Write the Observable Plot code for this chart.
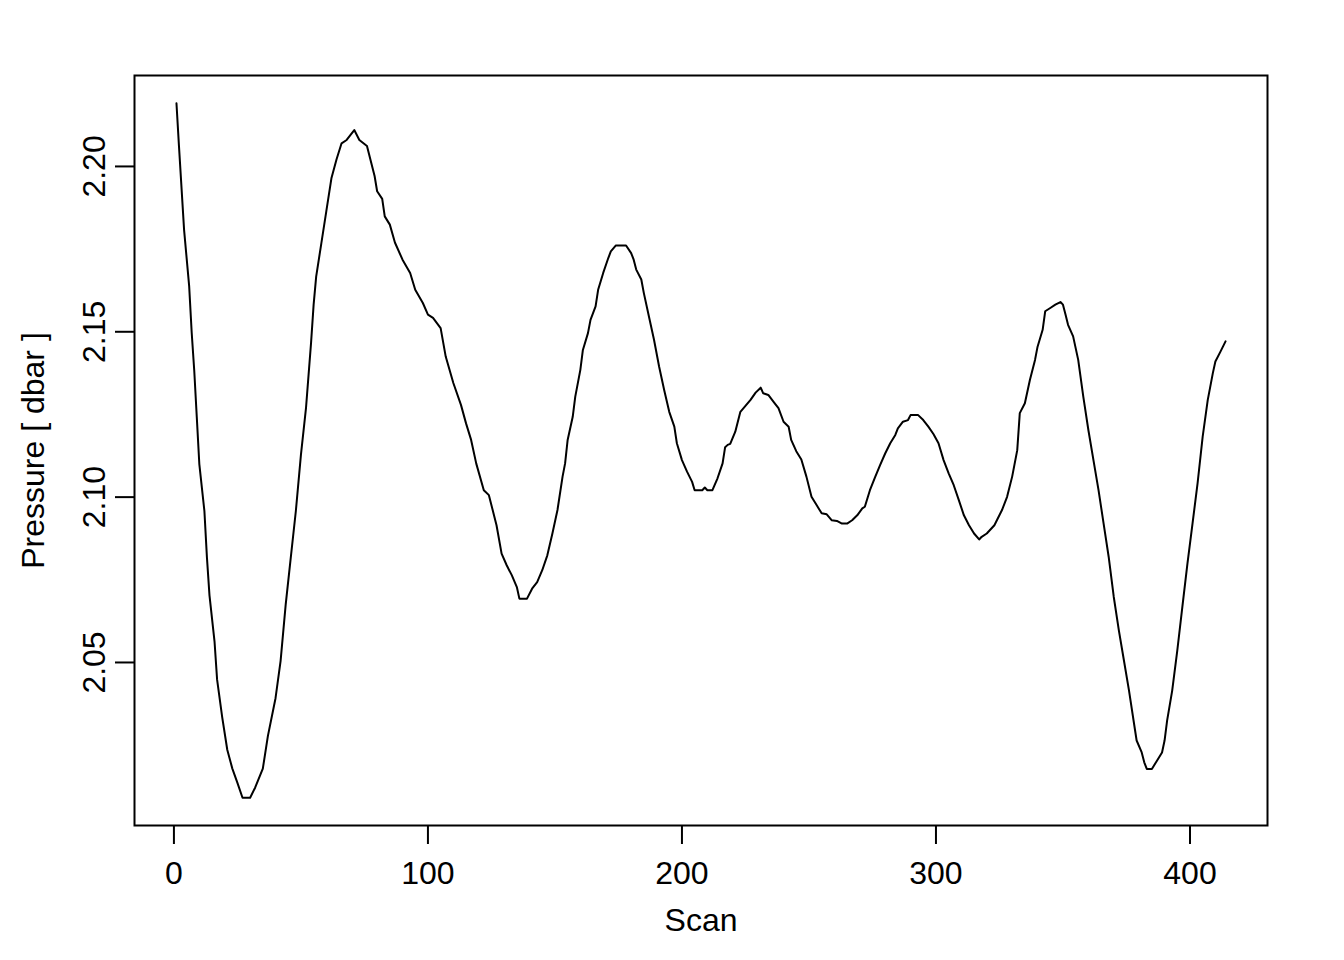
<!DOCTYPE html>
<html>
<head>
<meta charset="utf-8">
<script src="https://cdn.jsdelivr.net/npm/d3@7"></script>
<script src="https://cdn.jsdelivr.net/npm/@observablehq/plot@0.6"></script>
<style>
  html, body { margin: 0; padding: 0; background: #fff; }
</style>
</head>
<body>
<div id="chart"></div>
<script>
// Scan numbers and pressure (dbar)
const scan = [1, 2, 4, 6, 7, 8, 9, 10, 12, 13, 14, 16, 17, 19, 21, 23, 25, 27, 30, 32,
  35, 37, 40, 42, 44, 46, 48, 50, 52, 54, 55, 56, 58, 60, 62, 64, 66, 68, 71, 73,
  76, 79, 80, 82, 83, 85, 87, 90, 93, 95, 98, 100, 102, 105, 107, 110, 113, 115, 117, 119,
  122, 124, 127, 129, 131, 133, 135, 136, 139, 141, 143, 145, 147, 149, 151, 153, 154, 155, 157, 158,
  160, 161, 163, 164, 166, 167, 169, 171, 172, 174, 178, 180, 181, 182, 184, 185, 187, 189, 191, 193,
  195, 197, 198, 200, 202, 204, 205, 208, 209, 210, 212, 214, 216, 217, 218, 219, 221, 223, 225, 227,
  229, 231, 232, 234, 236, 238, 240, 242, 243, 245, 247, 249, 251, 253, 255, 257, 259, 261, 263, 265,
  267, 269, 271, 272, 274, 276, 278, 280, 282, 284, 285, 287, 289, 290, 293, 295, 297, 299, 301, 303,
  305, 307, 309, 311, 313, 315, 317, 318, 320, 323, 326, 328, 330, 332, 333, 335, 337, 339, 340, 342,
  343, 345, 347, 349, 350, 351, 352, 354, 356, 358, 360, 362, 364, 366, 368, 370, 372, 374, 376, 378,
  379, 381, 382, 383, 385, 387, 389, 390, 391, 393, 395, 397, 399, 401, 403, 405, 407, 409, 410, 412, 414];

const pressure = [2.2191, 2.2060, 2.1808, 2.1638, 2.1497, 2.1383, 2.1242, 2.1100, 2.0958, 2.0817, 2.0703, 2.0562, 2.0448, 2.0335, 2.0236, 2.0179, 2.0136, 2.0091, 2.0091, 2.0122,
  2.0179, 2.0278, 2.0392, 2.0505, 2.0675, 2.0817, 2.0958, 2.1128, 2.1270, 2.1468, 2.1582, 2.1667, 2.1766, 2.1865, 2.1964, 2.2021, 2.2070, 2.2080, 2.2110, 2.2080,
  2.2062, 2.1971, 2.1925, 2.1902, 2.1849, 2.1824, 2.1770, 2.1718, 2.1678, 2.1627, 2.1587, 2.1552, 2.1542, 2.1511, 2.1425, 2.1345, 2.1279, 2.1223, 2.1173, 2.1102,
  2.1021, 2.1006, 2.0915, 2.0829, 2.0794, 2.0764, 2.0728, 2.0693, 2.0693, 2.0723, 2.0743, 2.0779, 2.0824, 2.0890, 2.0961, 2.1062, 2.1102, 2.1173, 2.1243, 2.1304,
  2.1385, 2.1445, 2.1496, 2.1536, 2.1577, 2.1627, 2.1678, 2.1723, 2.1743, 2.1761, 2.1761, 2.1738, 2.1718, 2.1688, 2.1658, 2.1617, 2.1546, 2.1476, 2.1395, 2.1324,
  2.1258, 2.1213, 2.1163, 2.1112, 2.1077, 2.1046, 2.1021, 2.1021, 2.1029, 2.1021, 2.1021, 2.1057, 2.1102, 2.1151, 2.1158, 2.1161, 2.1198, 2.1258, 2.1276, 2.1294,
  2.1316, 2.1331, 2.1314, 2.1309, 2.1289, 2.1269, 2.1228, 2.1213, 2.1173, 2.1139, 2.1114, 2.1062, 2.1001, 2.0976, 2.0951, 2.0948, 2.0930, 2.0928, 2.0920, 2.0920,
  2.0930, 2.0945, 2.0966, 2.0971, 2.1021, 2.1060, 2.1097, 2.1132, 2.1163, 2.1188, 2.1208, 2.1228, 2.1233, 2.1248, 2.1248, 2.1233, 2.1213, 2.1191, 2.1163, 2.1112,
  2.1072, 2.1036, 2.0991, 2.0945, 2.0915, 2.0890, 2.0872, 2.0880, 2.0890, 2.0915, 2.0961, 2.1001, 2.1062, 2.1142, 2.1254, 2.1284, 2.1355, 2.1415, 2.1455, 2.1506,
  2.1562, 2.1572, 2.1582, 2.1590, 2.1582, 2.1552, 2.1521, 2.1486, 2.1415, 2.1304, 2.1203, 2.1112, 2.1021, 2.0920, 2.0819, 2.0698, 2.0597, 2.0506, 2.0415, 2.0314,
  2.0264, 2.0228, 2.0198, 2.0178, 2.0178, 2.0203, 2.0228, 2.0264, 2.0324, 2.0415, 2.0536, 2.0668, 2.0799, 2.0920, 2.1042, 2.1183, 2.1294, 2.1375, 2.1410, 2.1440, 2.1471];

const xTicks = [0, 100, 200, 300, 400];
const yTicks = [2.05, 2.10, 2.15, 2.20];
const xLabel = "Scan";
const yLabel = "Pressure [ dbar ]";

const data = scan.map((s, i) => ({scan: s, pressure: pressure[i]}));

// R-style 4% padding around the data range
const xExt = d3.extent(scan), yExt = d3.extent(pressure);
const xPad = (xExt[1] - xExt[0]) * 0.04, yPad = (yExt[1] - yExt[0]) * 0.04;

const font = "'Liberation Sans', Arial, Helvetica, sans-serif";

const chart = Plot.plot({
  width: 1344,
  height: 960,
  marginLeft: 134,
  marginRight: 77,
  marginTop: 75,
  marginBottom: 135,
  style: {fontFamily: font, fontSize: "32px", background: "#fff", color: "#000", overflow: "visible"},
  x: {domain: [xExt[0] - xPad, xExt[1] + xPad]},
  y: {domain: [yExt[0] - yPad, yExt[1] + yPad]},
  marks: [
    Plot.frame({stroke: "#000", strokeWidth: 2}),
    Plot.line(data, {x: "scan", y: "pressure", stroke: "#000", strokeWidth: 2, strokeLinejoin: "round"}),
    Plot.axisX({ticks: xTicks, tickSize: 19, tickPadding: 17, label: null, fontSize: 32, strokeWidth: 2, fill: "#000"}),
    Plot.axisY({ticks: yTicks, tickSize: 19, tickPadding: 11, tickRotate: -90, tickFormat: d3.format(".2f"), label: null, fontSize: 32, strokeWidth: 2, fill: "#000"}),
    Plot.text([xLabel], {frameAnchor: "bottom", dy: 95, text: d => d, fontSize: 32, lineAnchor: "middle", textAnchor: "middle", fill: "#000"}),
    Plot.text([yLabel], {frameAnchor: "left", dx: -101, rotate: -90, text: d => d, fontSize: 32, lineAnchor: "middle", textAnchor: "middle", fill: "#000"})
  ]
});

document.getElementById("chart").appendChild(chart);
</script>
</body>
</html>
